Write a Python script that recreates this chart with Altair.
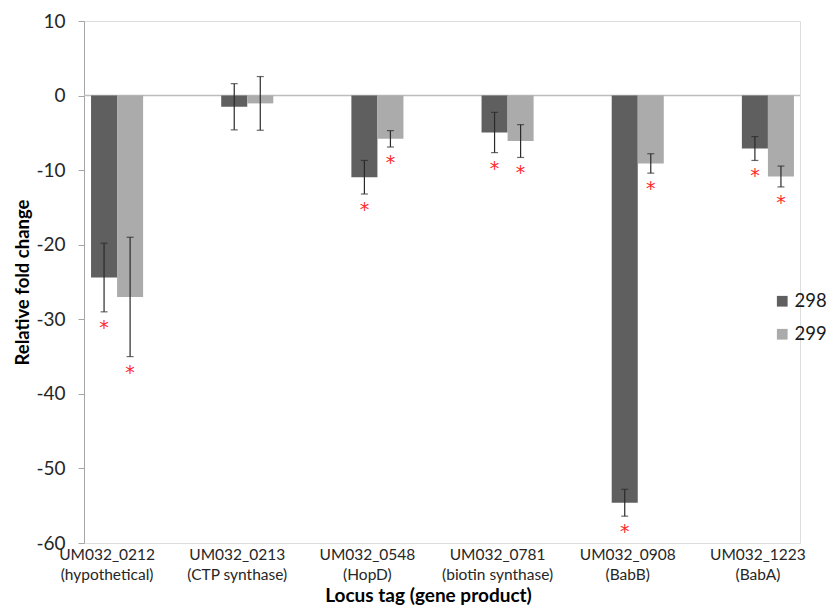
import altair as alt
import pandas as pd

genes = ["UM032_0212", "UM032_0213", "UM032_0548", "UM032_0781", "UM032_0908", "UM032_1223"]
products = ["hypothetical", "CTP synthase", "HopD", "biotin synthase", "BabB", "BabA"]
strains = ["298", "299"]

v298 = [-24.4, -1.5, -10.95, -4.95, -54.6, -7.1]
e298 = [4.6, 3.1, 2.25, 2.7, 1.8, 1.6]
sig298 = [True, False, True, True, True, True]

v299 = [-27.0, -1.05, -5.8, -6.1, -9.1, -10.85]
e299 = [8.0, 3.6, 1.1, 2.2, 1.3, 1.4]
sig299 = [True, False, True, True, True, True]

labels = [f"{g}|({p})" for g, p in zip(genes, products)]

rows = []
for i, lab in enumerate(labels):
    for s, vals, errs, sigs in [("298", v298, e298, sig298), ("299", v299, e299, sig299)]:
        v, e = vals[i], errs[i]
        rows.append(dict(label=lab, strain=s, value=v, lo=v - e, hi=v + e, sig=sigs[i]))
df = pd.DataFrame(rows)

W, H = 716, 522
FONT = "Lato"

xscale = alt.Scale(domain=labels, range=[-32, 749], paddingInner=0.6, paddingOuter=0.3)
x_axis = alt.Axis(domain=False, ticks=False, labelAngle=0, labelFontSize=15.5,
                  labelLineHeight=20, labelColor="#262626", labelPadding=4,
                  labelOffset=-10, labelExpr="split(datum.label, '|')",
                  labelOverlap=False, labelBound=False,
                  titleFontSize=19, titleFontWeight="bold", titleColor="#000000",
                  titleX=344, titleY=58, titleBaseline="alphabetic")
X = alt.X("label:N", scale=xscale, axis=x_axis, title="Locus tag (gene product)")
XO = alt.XOffset("strain:N", scale=alt.Scale(domain=strains, paddingInner=0, paddingOuter=0))

yscale = alt.Scale(domain=[-60, 10], nice=False, zero=False)
y_axis = alt.Axis(values=list(range(-60, 11, 10)), grid=False, domainColor="#a6a6a6",
                  tickColor="#a6a6a6", tickSize=6, labelFontSize=19, labelColor="#262626",
                  labelPadding=13, labelExpr="'' + datum.value",
                  titleFontSize=18.5, titleFontWeight="bold",
                  titleColor="#000000", titleX=-62, titleY=261, titleBaseline="middle")
YT = "Relative fold change"

color = alt.Color("strain:N",
                  scale=alt.Scale(domain=strains, range=["#5f5f5f", "#ababab"]),
                  legend=alt.Legend(title=None, orient="none", legendX=689, legendY=271,
                                    symbolType="square", symbolSize=115, labelFontSize=18.5,
                                    rowPadding=14, labelOffset=3, symbolStrokeWidth=0,
                                    labelColor="#1a1a1a"))

base = alt.Chart(df)

zero = alt.Chart(pd.DataFrame({"z": [0]})).mark_rule(color="#bdbdbd", strokeWidth=1.5).encode(
    y=alt.Y("z:Q", scale=yscale, axis=y_axis, title=YT),
    x=alt.value(0), x2=alt.value(W))

bars = base.mark_bar().encode(
    x=X, xOffset=XO,
    y=alt.Y("value:Q", scale=yscale, axis=y_axis, title=YT),
    y2=alt.datum(0),
    color=color)

err = base.mark_rule(color="#2a2a2a", strokeWidth=1.2).encode(
    x=X, xOffset=XO,
    y=alt.Y("lo:Q", scale=yscale, axis=y_axis, title=YT), y2="hi:Q")

cap_lo = base.mark_tick(color="#2a2a2a", thickness=1.2, size=7, orient="horizontal").encode(
    x=X, xOffset=XO, y=alt.Y("lo:Q", scale=yscale, axis=y_axis, title=YT))
cap_hi = base.mark_tick(color="#2a2a2a", thickness=1.2, size=7, orient="horizontal").encode(
    x=X, xOffset=XO, y=alt.Y("hi:Q", scale=yscale, axis=y_axis, title=YT))

stars = base.transform_filter("datum.sig").mark_text(
    text="*", color="#ff2a2a", fontSize=19, font="DejaVu Sans", baseline="middle", dy=16).encode(
    x=X, xOffset=XO, y=alt.Y("lo:Q", scale=yscale, axis=y_axis, title=YT))

chart = alt.layer(zero, bars, err, cap_lo, cap_hi, stars).properties(
    width=W, height=H,
    autosize=alt.AutoSizeParams(type="none"),
    padding={"left": 76, "top": 13, "right": 28, "bottom": 62},
).configure_view(stroke=None).configure(font=FONT)

chart.save("out.html", embed_options={"renderer": "svg", "actions": False})
